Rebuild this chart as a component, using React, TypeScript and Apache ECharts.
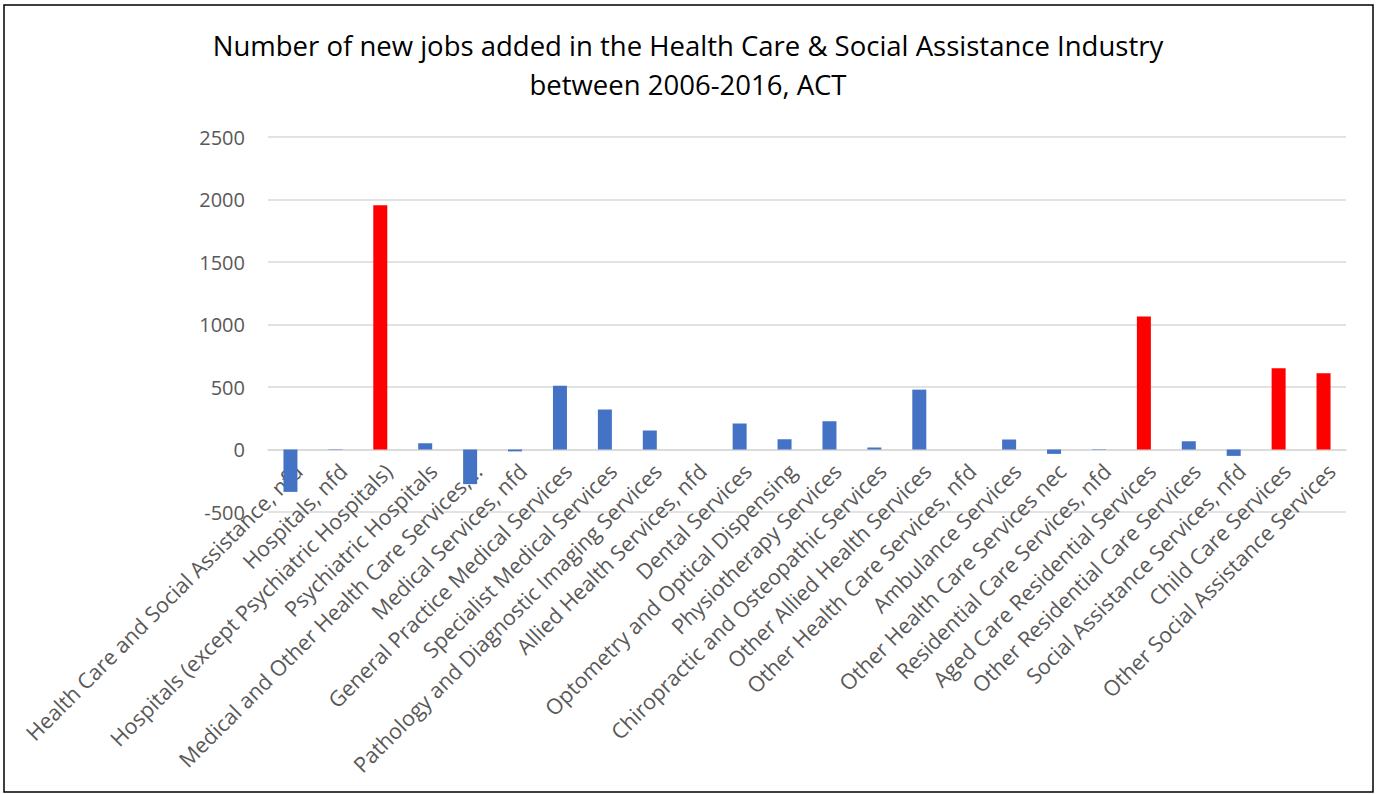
import React, { useEffect, useRef } from "react";
import * as echarts from "echarts";

const titleLines = [
  "Number of new jobs added in the Health Care & Social Assistance Industry",
  "between 2006-2016, ACT",
];

const categories = [
  "Health Care and Social Assistance, nfd",
  "Hospitals, nfd",
  "Hospitals (except Psychiatric Hospitals)",
  "Psychiatric Hospitals",
  "Medical and Other Health Care Services,…",
  "Medical Services, nfd",
  "General Practice Medical Services",
  "Specialist Medical Services",
  "Pathology and Diagnostic Imaging Services",
  "Allied Health Services, nfd",
  "Dental Services",
  "Optometry and Optical Dispensing",
  "Physiotherapy Services",
  "Chiropractic and Osteopathic Services",
  "Other Allied Health Services",
  "Other Health Care Services, nfd",
  "Ambulance Services",
  "Other Health Care Services nec",
  "Residential Care Services, nfd",
  "Aged Care Residential Services",
  "Other Residential Care Services",
  "Social Assistance Services, nfd",
  "Child Care Services",
  "Other Social Assistance Services",
];

const jobsAdded = [
  -339, -3, 1955, 50, -277, -15, 511, 320, 152, 0, 208, 82, 226, 16, 479, 0,
  80, -35, -3, 1065, 66, -51, 650, 610,
];

const highlightedCategories = [
  "Hospitals (except Psychiatric Hospitals)",
  "Aged Care Residential Services",
  "Child Care Services",
  "Other Social Assistance Services",
];

const yMin = -500;
const yMax = 2500;
const yInterval = 500;

const BLUE = "#4472C4";
const RED = "#FF0000";
const FONT = "'Open Sans', 'Noto Sans', sans-serif";

const GRID_TOP = 137;
const GRID_BOTTOM = 282;
const PLOT_HEIGHT = 794 - GRID_TOP - GRID_BOTTOM;

export default function App() {
  const ref = useRef<HTMLDivElement>(null);

  useEffect(() => {
    document.body.style.margin = "0";
    if (!ref.current) return;
    const chart = echarts.init(ref.current, null, { renderer: "svg" });
    // distance from the bottom of the plot (yMin) to the zero line
    const zeroOffset = (PLOT_HEIGHT * (0 - yMin)) / (yMax - yMin);
    chart.setOption({
      animation: false,
      backgroundColor: "#ffffff",
      title: {
        text: titleLines.join("\n"),
        left: "center",
        top: 21,
        textStyle: {
          fontFamily: FONT,
          fontSize: 27.5,
          fontWeight: "normal",
          color: "#000000",
          lineHeight: 39,
        },
      },
      graphic: [
        {
          type: "rect",
          shape: { x: 4, y: 5, width: 1369, height: 787 },
          style: { fill: "none", stroke: "#000000", lineWidth: 1.5 },
          silent: true,
        },
      ],
      grid: {
        left: 268,
        right: 30,
        top: GRID_TOP,
        bottom: GRID_BOTTOM,
        containLabel: false,
        outerBoundsMode: "none",
      },
      xAxis: {
        type: "category",
        data: categories,
        position: "bottom",
        offset: -zeroOffset,
        axisTick: { show: false },
        axisLine: { show: true, onZero: false, lineStyle: { color: "#d9d9d9", width: 1.5 } },
        axisLabel: {
          interval: 0,
          rotate: 45,
          fontFamily: FONT,
          fontSize: 21.5,
          color: "#595959",
          margin: 10,
          verticalAlign: "top",
        },
      },
      yAxis: {
        type: "value",
        min: yMin,
        max: yMax,
        interval: yInterval,
        axisLine: { show: false },
        axisTick: { show: false },
        axisLabel: {
          fontFamily: FONT,
          fontSize: 20,
          color: "#595959",
          margin: 23,
          formatter: (v: number) => String(v),
        },
        splitLine: { lineStyle: { color: "#d9d9d9", width: 1.5 } },
      },
      series: [
        {
          type: "bar",
          barWidth: 14,
          data: jobsAdded.map((v, i) => ({
            value: v,
            itemStyle: {
              color: highlightedCategories.includes(categories[i]) ? RED : BLUE,
            },
          })),
        },
      ],
    });
    return () => chart.dispose();
  }, []);

  return <div ref={ref} style={{ width: 1376, height: 794 }} />;
}
